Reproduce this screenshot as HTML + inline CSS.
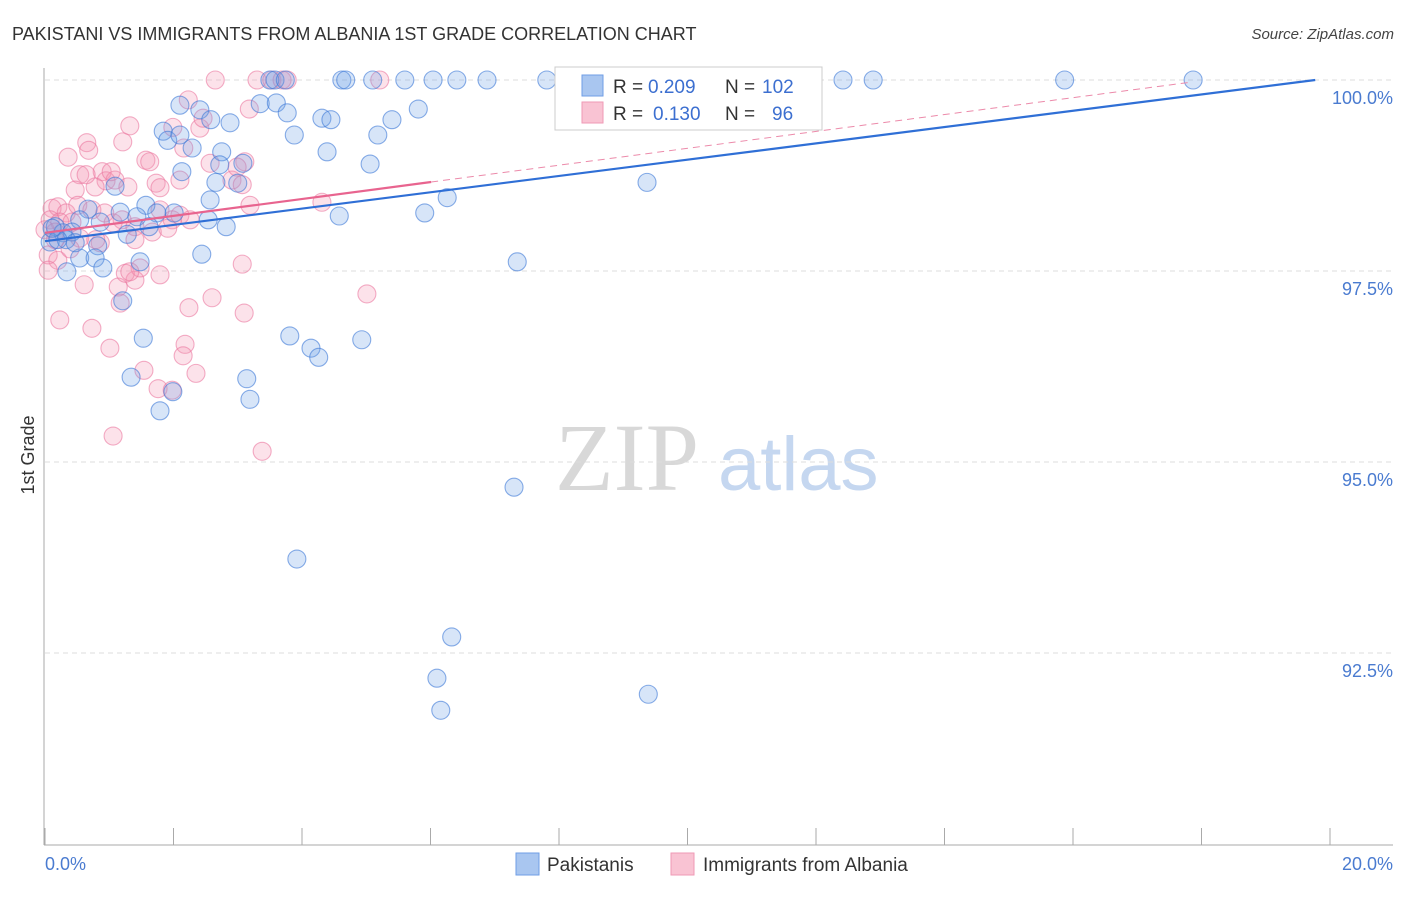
<!DOCTYPE html>
<html><head><meta charset="utf-8"><style>
body{margin:0;background:#fff;width:1406px;height:892px;overflow:hidden;font-family:"Liberation Sans",sans-serif}
</style></head><body>
<svg id="chart" width="1406" height="892" xmlns="http://www.w3.org/2000/svg">
<text x="12" y="40" font-size="18" fill="#333">PAKISTANI VS IMMIGRANTS FROM ALBANIA 1ST GRADE CORRELATION CHART</text>
<text x="1394" y="39" font-size="15" fill="#444" font-style="italic" text-anchor="end">Source: ZipAtlas.com</text>
<g>
<text x="555" y="490" font-size="96" fill="#d8d8d8" font-family="Liberation Serif, serif">ZIP</text>
<text x="718" y="490" font-size="76" fill="#c5d7f0">atlas</text>
</g>
<g id="grid"></g>
<g id="axes"></g>
<g id="pts"></g>
<g id="trend"></g>
<text transform="translate(34,455) rotate(-90)" font-size="18" fill="#333" text-anchor="middle">1st Grade</text>
<g>
<rect x="555" y="67" width="267" height="63" fill="#fff" stroke="#ccc"/>
<rect x="582" y="75" width="21" height="21" fill="#a9c6f0" stroke="#6f9ee6"/>
<rect x="582" y="102" width="21" height="21" fill="#f9c3d3" stroke="#ef9ab6"/>
<text x="613" y="93" font-size="19" fill="#333">R =</text>
<text x="648" y="93" font-size="19" fill="#3c6fd0">0.209</text>
<text x="725" y="93" font-size="19" fill="#333">N =</text>
<text x="762" y="93" font-size="19" fill="#3c6fd0">102</text>
<text x="613" y="120" font-size="19" fill="#333">R =</text>
<text x="653" y="120" font-size="19" fill="#3c6fd0">0.130</text>
<text x="725" y="120" font-size="19" fill="#333">N =</text>
<text x="772" y="120" font-size="19" fill="#3c6fd0">96</text>
</g>
<g>
<rect x="516" y="853" width="23" height="22" fill="#a9c6f0" stroke="#6f9ee6"/>
<text x="547" y="871" font-size="19" fill="#333">Pakistanis</text></g>
<g>
<rect x="671" y="853" width="23" height="22" fill="#f9c3d3" stroke="#ef9ab6"/>
<text x="703" y="871" font-size="19" fill="#333">Immigrants from Albania</text></g>
</svg>
<script>
const xTicks=[0,2,4,6,8,10,12,14,16,18,20];
const yTicks=[100,97.5,95,92.5];
const yTickLabels=["100.0%","97.5%","95.0%","92.5%"];
const blueX=[3.50,3.58,3.74,4.62,4.68,5.10,5.60,6.04,6.41,6.88,7.81,8.14,8.28,8.61,10.01,11.75,12.42,12.89,15.87,17.87,8.56,8.51,
2.10,2.41,3.35,3.60,2.58,2.88,3.77,1.84,1.91,2.29,3.88,4.31,4.45,5.18,5.40,5.81,4.39,5.06,2.75,2.72,3.08,2.13,2.66,3.00,1.09,9.37,6.26,5.91,4.58,0.67,1.17,1.57,1.74,2.01,2.54,2.82,0.54,0.86,1.43,0.16,0.28,0.42,1.28,1.62,0.08,0.33,0.82,2.44,0.54,0.78,0.90,0.34,1.48,7.35,1.21,1.53,3.81,4.14,4.26,4.93,1.34,3.14,1.99,3.19,1.79,7.30,3.92,6.33,6.10,9.39,6.16,0.20,0.47,2.10,2.57,0.11];
const blueY=[100,100,100,100,100,100,100,100,100,100,100,100,100,100,100,100,100,100,100,100,100,100,
99.67,99.61,99.69,99.70,99.48,99.44,99.57,99.33,99.21,99.11,99.28,99.50,99.48,99.28,99.48,99.62,99.06,98.90,99.06,98.89,98.91,98.80,98.66,98.65,98.61,98.66,98.46,98.26,98.22,98.31,98.27,98.36,98.26,98.26,98.17,98.08,98.17,98.14,98.21,98.08,98.00,98.01,97.98,98.08,97.88,97.91,97.83,97.72,97.67,97.67,97.54,97.49,97.62,97.62,97.11,96.62,96.65,96.49,96.37,96.60,96.11,96.09,95.92,95.82,95.67,94.67,93.73,92.71,92.17,91.96,91.75,97.91,97.87,99.28,98.43,98.06];
const pinkX=[2.65,3.30,3.53,3.69,3.77,5.21,2.23,1.99,2.41,1.32,3.18,2.46,0.65,0.68,0.36,1.21,2.16,1.57,1.63,3.11,0.54,0.89,0.95,1.09,1.03,1.29,1.73,2.10,0.78,0.47,2.91,3.07,2.99,3.19,4.31,0.11,0.20,0.33,0.51,0.73,0.93,1.79,1.98,2.10,0.08,0.23,0.42,1.20,1.40,1.67,1.91,0.0,0.16,0.54,0.86,1.40,0.05,0.20,1.06,0.79,0.05,0.61,1.14,1.40,1.25,1.48,1.79,1.32,3.07,5.01,2.60,2.24,1.17,0.23,0.73,3.10,1.01,2.18,2.15,1.54,2.35,1.76,1.98,1.06,3.38,1.79,2.57,2.26,0.16,0.39,0.64];
const pinkY=[100,100,100,100,100,100,99.74,99.38,99.37,99.40,99.62,99.50,99.18,99.08,98.99,99.19,99.11,98.95,98.93,98.93,98.76,98.80,98.68,98.69,98.80,98.60,98.65,98.69,98.60,98.56,98.69,98.63,98.86,98.36,98.40,98.32,98.34,98.26,98.36,98.30,98.26,98.30,98.17,98.23,98.17,98.14,98.14,98.17,98.08,98.01,98.06,98.04,98.01,97.93,97.87,97.91,97.71,97.64,98.13,97.91,97.51,97.32,97.29,97.38,97.47,97.54,97.45,97.49,97.59,97.20,97.15,97.02,97.08,96.86,96.75,96.95,96.49,96.54,96.39,96.20,96.16,95.96,95.94,95.34,95.14,98.59,98.91,98.17,97.91,97.79,98.76];
const blueTrend=[0,97.89,19.77,100];
const pinkTrend=[0,98.0,6.01,98.665,17.82,99.97];
const NS="http://www.w3.org/2000/svg";
const sx=v=>45+v*64.25, sy=v=>80+(100-v)*76.4;
function mk(tag,attrs,parent){const e=document.createElementNS(NS,tag);for(const k in attrs)e.setAttribute(k,attrs[k]);document.getElementById(parent).appendChild(e);return e;}
yTicks.forEach((t,i)=>{
 const g=mk('line',{x1:45,x2:1393,y1:sy(t),y2:sy(t),stroke:'#ddd','stroke-dasharray':'5,4'},'grid');
 
 
 const l=mk('text',{x:1393,y:sy(t)+24,'font-size':18,fill:'#4a7bd0','text-anchor':'end'},'axes');
 l.textContent=yTickLabels[i];
 
 
});
const ax=mk('line',{x1:44,x2:44,y1:68,y2:845,stroke:'#aaa'},'axes');


const bx=mk('line',{x1:44,x2:1393,y1:845,y2:845,stroke:'#aaa'},'axes');


xTicks.forEach(t=>{
 const tk=mk('line',{x1:sx(t),x2:sx(t),y1:828,y2:845,stroke:'#aaa'},'axes');
 
 
});
const x0=mk('text',{x:45,y:870,'font-size':18,fill:'#4a7bd0'},'axes');x0.textContent=xTicks[0].toFixed(1)+'%';


const x1=mk('text',{x:1393,y:870,'font-size':18,fill:'#4a7bd0','text-anchor':'end'},'axes');x1.textContent=xTicks[xTicks.length-1].toFixed(1)+'%';


pinkX.forEach((v,i)=>{
 const c=mk('circle',{cx:sx(v),cy:sy(pinkY[i]),r:9,fill:'rgba(243,150,180,0.28)',stroke:'rgba(235,120,160,0.6)','stroke-width':1.1},'pts');
 
 
});
blueX.forEach((v,i)=>{
 const c=mk('circle',{cx:sx(v),cy:sy(blueY[i]),r:9,fill:'rgba(110,160,230,0.28)',stroke:'rgba(60,120,215,0.6)','stroke-width':1.1},'pts');
 
 
});
const bl=mk('line',{x1:sx(blueTrend[0]),y1:sy(blueTrend[1]),x2:sx(blueTrend[2]),y2:sy(blueTrend[3]),stroke:'#2f6fd6','stroke-width':2.2},'trend');


const pl=mk('line',{x1:sx(pinkTrend[0]),y1:sy(pinkTrend[1]),x2:sx(pinkTrend[2]),y2:sy(pinkTrend[3]),stroke:'#e8648f','stroke-width':2.2},'trend');


const pd=mk('line',{x1:sx(pinkTrend[2]),y1:sy(pinkTrend[3]),x2:sx(pinkTrend[4]),y2:sy(pinkTrend[5]),stroke:'#ec8aaa','stroke-width':1,'stroke-dasharray':'7,5'},'trend');


</script>
</body></html>
